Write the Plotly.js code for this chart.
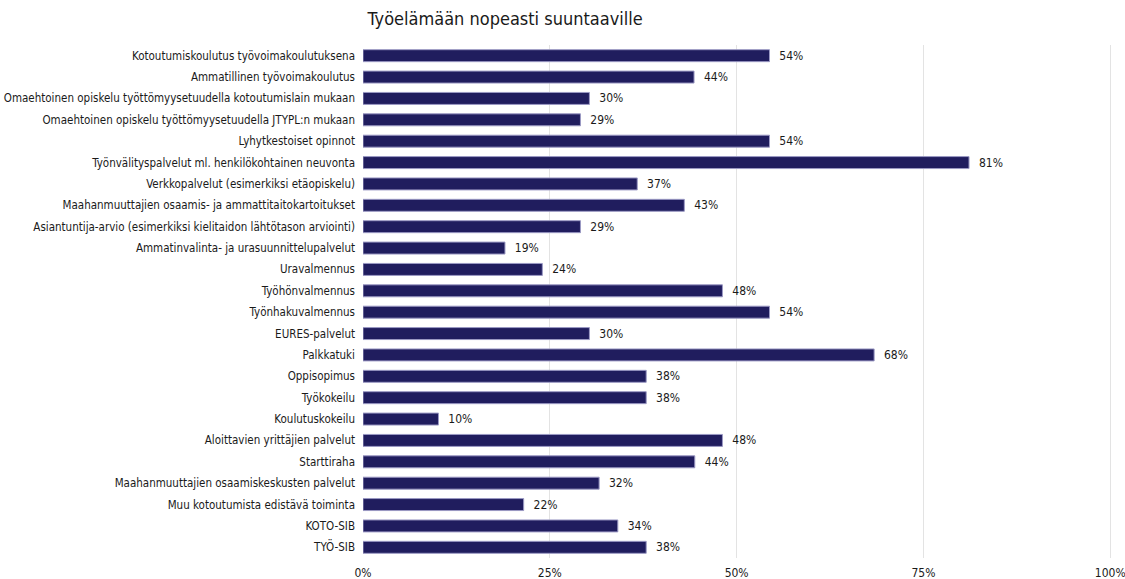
<!DOCTYPE html>
<html>
<head>
<meta charset="utf-8">
<script src="https://cdn.plot.ly/plotly-3.0.1.min.js"></script>
<style>html,body{margin:0;padding:0;background:#fff;}#chart{width:1125px;height:579px;}</style>
</head>
<body>
<div id="chart"></div>
<script>
const chartTitle = "Työelämään nopeasti suuntaaville";
const categories = [
  "Kotoutumiskoulutus työvoimakoulutuksena",
  "Ammatillinen työvoimakoulutus",
  "Omaehtoinen opiskelu työttömyysetuudella kotoutumislain mukaan",
  "Omaehtoinen opiskelu työttömyysetuudella JTYPL:n mukaan",
  "Lyhytkestoiset opinnot",
  "Työnvälityspalvelut ml. henkilökohtainen neuvonta",
  "Verkkopalvelut (esimerkiksi etäopiskelu)",
  "Maahanmuuttajien osaamis- ja ammattitaitokartoitukset",
  "Asiantuntija-arvio (esimerkiksi kielitaidon lähtötason arviointi)",
  "Ammatinvalinta- ja urasuunnittelupalvelut",
  "Uravalmennus",
  "Työhönvalmennus",
  "Työnhakuvalmennus",
  "EURES-palvelut",
  "Palkkatuki",
  "Oppisopimus",
  "Työkokeilu",
  "Koulutuskokeilu",
  "Aloittavien yrittäjien palvelut",
  "Starttiraha",
  "Maahanmuuttajien osaamiskeskusten palvelut",
  "Muu kotoutumista edistävä toiminta",
  "KOTO-SIB",
  "TYÖ-SIB"
];
const values = [54.4, 44.3, 30.3, 29.1, 54.4, 81.1, 36.7, 43.0, 29.1, 19.0, 24.0, 48.1,
                54.4, 30.3, 68.4, 37.9, 37.9, 10.1, 48.1, 44.4, 31.6, 21.5, 34.1, 37.9];
const tickVals = [0, 25, 50, 75, 100];
const tickText = ["0%", "25%", "50%", "75%", "100%"];

const FONT = '"DejaVu Sans Condensed", "Liberation Sans Narrow", sans-serif';

const trace = {
  type: 'bar',
  orientation: 'h',
  x: values,
  y: categories,
  marker: { color: '#201d5e', line: { color: '#9b99c4', width: 1 } },
  texttemplate: '\u00a0\u00a0%{x:.0f}%',
  textposition: 'outside',
  constraintext: 'none',
  cliponaxis: false,
  textfont: { family: FONT, size: 12, color: '#1a1a1a' },
  hoverinfo: 'skip'
};

const layout = {
  width: 1125, height: 579,
  margin: { l: 363, r: 11, t: 45, b: 21 },
  paper_bgcolor: '#ffffff', plot_bgcolor: '#ffffff',
  font: { family: FONT, size: 11.5, color: '#1a1a1a' },
  title: { text: chartTitle, x: 0.449, xanchor: 'center', xref: 'container', y: 0.968, yanchor: 'middle', font: { family: FONT, size: 18, color: '#1a1a1a' } },
  bargap: 0.44,
  showlegend: false,
  xaxis: {
    range: [0, 100.5], tickvals: tickVals, ticktext: tickText,
    showgrid: true, gridcolor: '#e3e3e3', gridwidth: 1,
    zeroline: false, showline: false, ticks: '', fixedrange: true,
    ticklabelstandoff: 6,
    ticklabeloverflow: 'allow',
    tickfont: { family: FONT, size: 12, color: '#1a1a1a' }
  },
  yaxis: {
    autorange: 'reversed', type: 'category',
    showgrid: false, zeroline: false, showline: false, ticks: '',
    ticklabelstandoff: 7,
    tickfont: { family: FONT, size: 11.5, color: '#1a1a1a' }
  }
};

Plotly.newPlot('chart', [trace], layout, { displayModeBar: false, staticPlot: true });
</script>
</body>
</html>
